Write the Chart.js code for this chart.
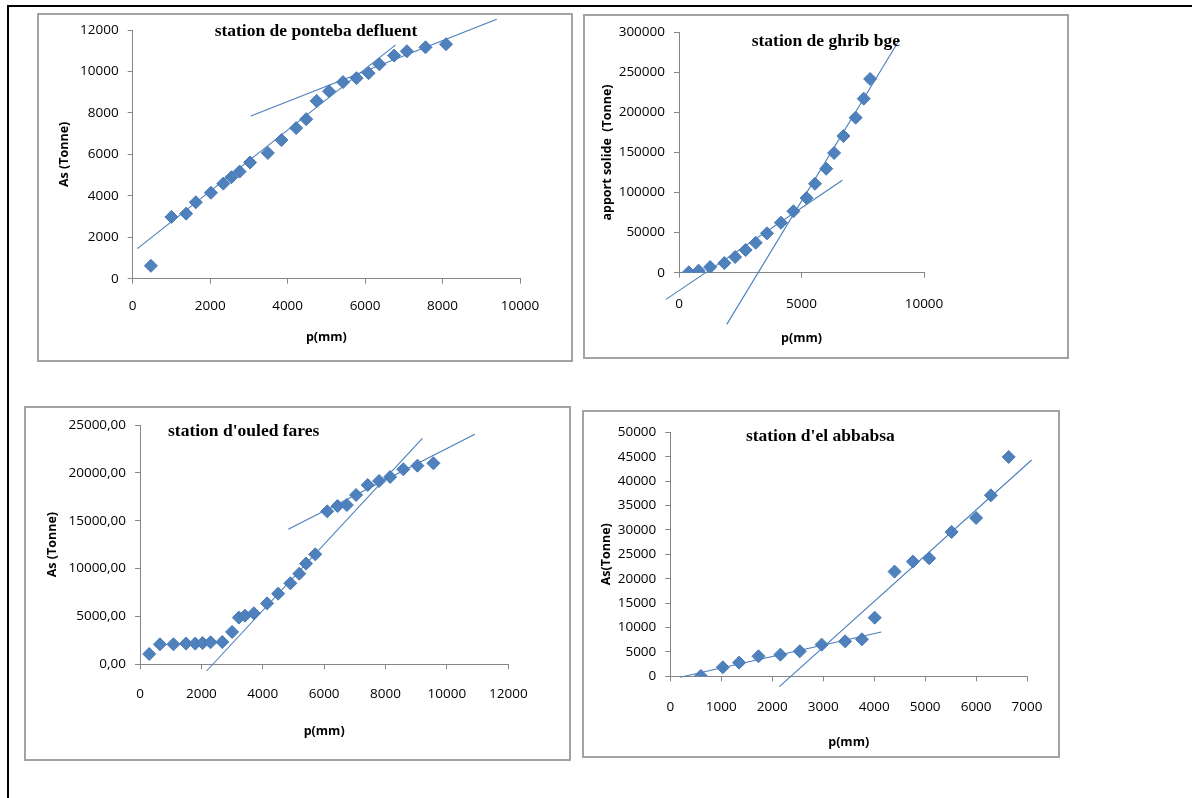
<!DOCTYPE html>
<html>
<head>
<meta charset="utf-8">
<script src="https://cdn.jsdelivr.net/npm/chart.js@4/dist/chart.umd.min.js"></script>
<style>
  body{margin:0;background:#fff;width:1192px;height:798px;position:relative;overflow:hidden;}
  .outer{position:absolute;left:7px;top:5px;width:1200px;height:800px;border-top:2px solid #000;border-left:2px solid #000;}
  .frame{position:absolute;box-sizing:border-box;border:2px solid #a3a3a3;}
  canvas{position:absolute;}
</style>
</head>
<body>
<div class="outer"></div>

<div class="frame" style="left:37px;top:13px;width:536px;height:349px"></div>
<canvas id="c1" style="left:37px;top:13px"></canvas>
<div class="frame" style="left:583px;top:14px;width:486px;height:345px"></div>
<canvas id="c2" style="left:583px;top:14px"></canvas>
<div class="frame" style="left:24px;top:406px;width:547px;height:355px"></div>
<canvas id="c3" style="left:24px;top:406px"></canvas>
<div class="frame" style="left:582px;top:410px;width:478px;height:348px"></div>
<canvas id="c4" style="left:582px;top:410px"></canvas>

<script>
// station de ponteba defluent
const pontebaP  = [470,1000,1380,1630,2020,2340,2550,2760,3030,3490,3840,4220,4480,4750,5070,5430,5780,6090,6370,6750,7080,7560,8090];
const pontebaAs = [620,2980,3140,3690,4150,4590,4900,5170,5610,6070,6690,7270,7700,8580,9050,9490,9680,9920,10350,10770,10980,11170,11320];
const pontebaFit1X = [120,6790],  pontebaFit1Y = [1450,11290];
const pontebaFit2X = [3050,9400], pontebaFit2Y = [7850,12520];

// station de ghrib bge
const ghribP  = [400,800,1270,1850,2290,2720,3130,3590,4160,4670,5210,5550,6010,6330,6710,7210,7540,7800];
const ghribAs = [500,2500,7000,12000,19500,28300,37400,49100,62400,76600,93200,111000,129800,149400,170600,193500,217200,241800];
const ghribFit1X = [-530,6670], ghribFit1Y = [-33300,115300];
const ghribFit2X = [1950,8990], ghribFit2Y = [-64500,290400];

// station d'ouled fares
const fareP  = [300,650,1090,1500,1800,2040,2300,2680,3000,3220,3420,3710,4140,4500,4900,5190,5410,5710,6100,6440,6740,7040,7420,7790,8150,8580,9040,9560];
const fareAs = [1080,2090,2090,2160,2160,2230,2300,2330,3380,4880,5080,5330,6370,7380,8460,9470,10520,11490,15980,16540,16640,17690,18730,19150,19570,20370,20750,21000];
const fareFit1X = [2170,9200],  fareFit1Y = [-700,23610];
const fareFit2X = [4830,10910], fareFit2Y = [14100,24030];

// station d'el abbabsa
const abbP  = [600,1030,1350,1730,2160,2540,2970,3430,3760,4010,4400,4760,5080,5520,6000,6290,6640];
const abbAs = [70,1840,2800,4100,4440,5120,6490,7170,7580,12020,21450,23500,24180,29580,32450,37090,44950];
const abbFit1X = [190,4140],  abbFit1Y = [-200,9090];
const abbFit2X = [2140,7090], abbFit2Y = [-2120,44330];

const blue = '#4a7ebb', axisGrey = '#868686';
const pts = (xs, ys) => xs.map((x,i) => ({x:x, y:ys[i]}));

// chart title drawn inside the plot like in the original
const innerTitle = {
  id:'innerTitle',
  afterDraw(chart, args, o){
    const ctx = chart.ctx;
    ctx.save();
    ctx.font = 'bold 17.5px "Liberation Serif"';
    ctx.fillStyle = '#000';
    ctx.textAlign = 'center';
    ctx.textBaseline = 'middle';
    ctx.fillText(o.text, o.x, o.y);
    ctx.restore();
  }
};

function makeChart(id, c){
  const cv = document.getElementById(id);
  cv.width = c.w; cv.height = c.h;
  cv.style.width = c.w+'px'; cv.style.height = c.h+'px';
  const lh = 12.5*1.2;
  const padL = c.yTitleX - lh/2, padB = c.h - (c.xTitleY + lh/2);
  const tickFont = {family:'"Open Sans"', size:13.5};
  const titleFont = {family:'"Open Sans"', size:12.5, weight:'bold'};
  const datasets = c.fits.map(f => ({
    data: pts(f[0], f[1]), showLine:true, pointRadius:0, borderColor:blue, borderWidth:1.1, clip:false
  }));
  datasets.push({
    data: pts(c.px, c.py), pointStyle:'rectRot', pointRadius:6.5,
    backgroundColor:'#4f81bd', borderColor:'#4677b4', borderWidth:1
  });
  new Chart(cv, {
    type:'scatter',
    data:{datasets:datasets},
    plugins:[innerTitle],
    options:{
      responsive:false, animation:false,
      layout:{padding:{left:padL, top:c.area[1], right:c.w - c.area[2], bottom:padB}},
      plugins:{legend:{display:false}, tooltip:{enabled:false},
        innerTitle:{text:c.title, x:c.titlePos[0], y:c.titlePos[1]}},
      scales:{
        x:{type:'linear', min:c.xr[0], max:c.xr[1],
          afterFit: s => { s.height = (c.h - padB) - c.area[3]; },
          ticks:{stepSize:c.xr[2], color:'#000', font:tickFont, padding:c.xPad, maxRotation:0, callback: v => String(v)},
          grid:{drawOnChartArea:false, tickLength:5, color:axisGrey},
          border:{color:axisGrey},
          title:{display:true, text:'p(mm)', color:'#000', font:titleFont, padding:0}},
        y:{type:'linear', min:c.yr[0], max:c.yr[1],
          afterFit: s => { s.width = c.area[0] - padL; },
          ticks:{stepSize:c.yr[2], color:'#000', font:tickFont, padding:9, callback:c.yFmt || (v => String(v))},
          grid:{drawOnChartArea:false, tickLength:5, color:axisGrey},
          border:{color:axisGrey},
          title:{display:true, text:c.yLabel, color:'#000', font:titleFont, padding:0}}
      }
    }
  });
}

makeChart('c1', {w:536, h:349, area:[95.7,12,483,265.7], yTitleX:27.3, xTitleY:324.7,
  title:'station de ponteba defluent', titlePos:[279,18.7], xPad:14,
  xr:[0,10000,2000], yr:[0,12000,2000], yLabel:'As (Tonne)',
  px:pontebaP, py:pontebaAs, fits:[[pontebaFit1X,pontebaFit1Y],[pontebaFit2X,pontebaFit2Y]]});

makeChart('c2', {w:486, h:345, area:[96,18.3,341,258.7], yTitleX:24.7, xTitleY:324.3,
  title:'station de ghrib bge', titlePos:[242.8,27.7], xPad:18,
  xr:[0,10000,5000], yr:[0,300000,50000], yLabel:'apport solide  (Tonne)',
  px:ghribP, py:ghribAs, fits:[[ghribFit1X,ghribFit1Y],[ghribFit2X,ghribFit2Y]]});

makeChart('c3', {w:547, h:355, area:[116,19,484.3,258.3], yTitleX:28.3, xTitleY:325,
  title:"station d'ouled fares", titlePos:[219.7,25.7], xPad:17,
  xr:[0,12000,2000], yr:[0,25000,5000], yLabel:'As (Tonne)',
  yFmt: v => v.toFixed(2).replace('.', ','),
  px:fareP, py:fareAs, fits:[[fareFit1X,fareFit1Y],[fareFit2X,fareFit2Y]]});

makeChart('c4', {w:478, h:348, area:[88.3,22.3,449.3,266.3], yTitleX:24.7, xTitleY:332.3,
  title:"station d'el abbabsa", titlePos:[238.3,26.7], xPad:17.5,
  xr:[0,7000,1000], yr:[0,50000,5000], yLabel:'As(Tonne)',
  px:abbP, py:abbAs, fits:[[abbFit1X,abbFit1Y],[abbFit2X,abbFit2Y]]});
</script>
</body>
</html>
